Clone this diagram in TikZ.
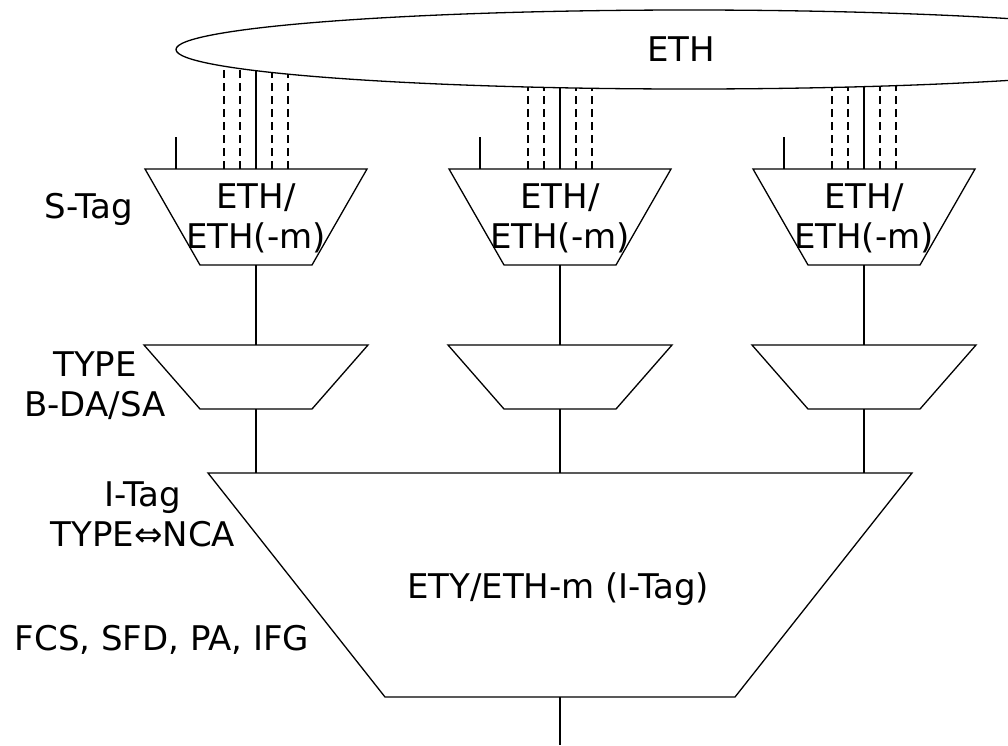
\documentclass[tikz,border=0pt]{standalone}
\usepackage{fontspec}
\setmainfont{DejaVu Sans}
\begin{document}
\begin{tikzpicture}[x=1pt,y=-1pt]
\tikzset{
  lbl/.style={font=\fontsize{34}{40}\selectfont, inner sep=0pt, align=center},
  conn/.style={draw, line width=1.3pt},
  dsh/.style={draw, line width=1.3pt, dash pattern=on 8pt off 5pt},
  trap/.style={draw, line width=1.3pt, line join=miter},
}
\useasboundingbox (0,0) rectangle (1008,745);
\clip (0,0) rectangle (1008,745);
% ETH ellipse
\draw[line width=1.3pt] (689,49.5) ellipse [x radius=513, y radius=39.5];
\node[lbl] (eth) at (681,49) {ETH};
% columns
\foreach \c/\n in {256/1,560/2,864/3} {
  \draw[trap] (\c-111,169) -- (\c+111,169) -- (\c+56,265) -- (\c-56,265) -- cycle;
  \draw[trap] (\c-112,345) -- (\c+112,345) -- (\c+56,409) -- (\c-56,409) -- cycle;
  \coordinate (st\n) at (\c,169);
  \coordinate (sb\n) at (\c,265);
  \coordinate (tt\n) at (\c,345);
  \coordinate (tb\n) at (\c,409);
  \coordinate (it\n) at (\c,473);
  \coordinate (stub\n) at (\c-80,137);
  \coordinate (stubb\n) at (\c-80,169);
  \node[lbl] (m\n) at (\c,218) {ETH/\\ETH(-m)};
  \path[conn] (sb\n) -- (tt\n);
  \path[conn] (tb\n) -- (it\n);
  \path[conn] (stub\n) -- (stubb\n);
  \foreach \o/\k in {-32/1,-16/2,0/3,16/4,32/5} {
    \pgfmathsetmacro\yy{49.5+39.5*sqrt(1-((\c+\o-689)/513)^2)}
    \coordinate (e\n\k) at (\c+\o,\yy);
    \coordinate (f\n\k) at (\c+\o,169);
  }
  \foreach \k in {1,2,4,5} { \path[dsh] (f\n\k) -- (e\n\k); }
  \path[conn] (f\n3) -- (e\n3);
}
% big trapezoid
\draw[trap] (208,473) -- (912,473) -- (735,697) -- (385,697) -- cycle;
\coordinate (bb) at (560,697);
\coordinate (bend) at (560,745);
\path[conn] (bb) -- (bend);
\node[lbl] (ety) at (558,589) {ETY/ETH-m (I-Tag)};
% side labels
\node[lbl] (stag) at (89,209) {S-Tag};
\node[lbl] (type) at (95,386) {TYPE\\B-DA/SA};
\node[lbl] (itag) at (143,514) {I-Tag\\TYPE⇔NCA};
\node[lbl] (fcs) at (162,640) {FCS, SFD, PA, IFG};
\end{tikzpicture}
\end{document}
